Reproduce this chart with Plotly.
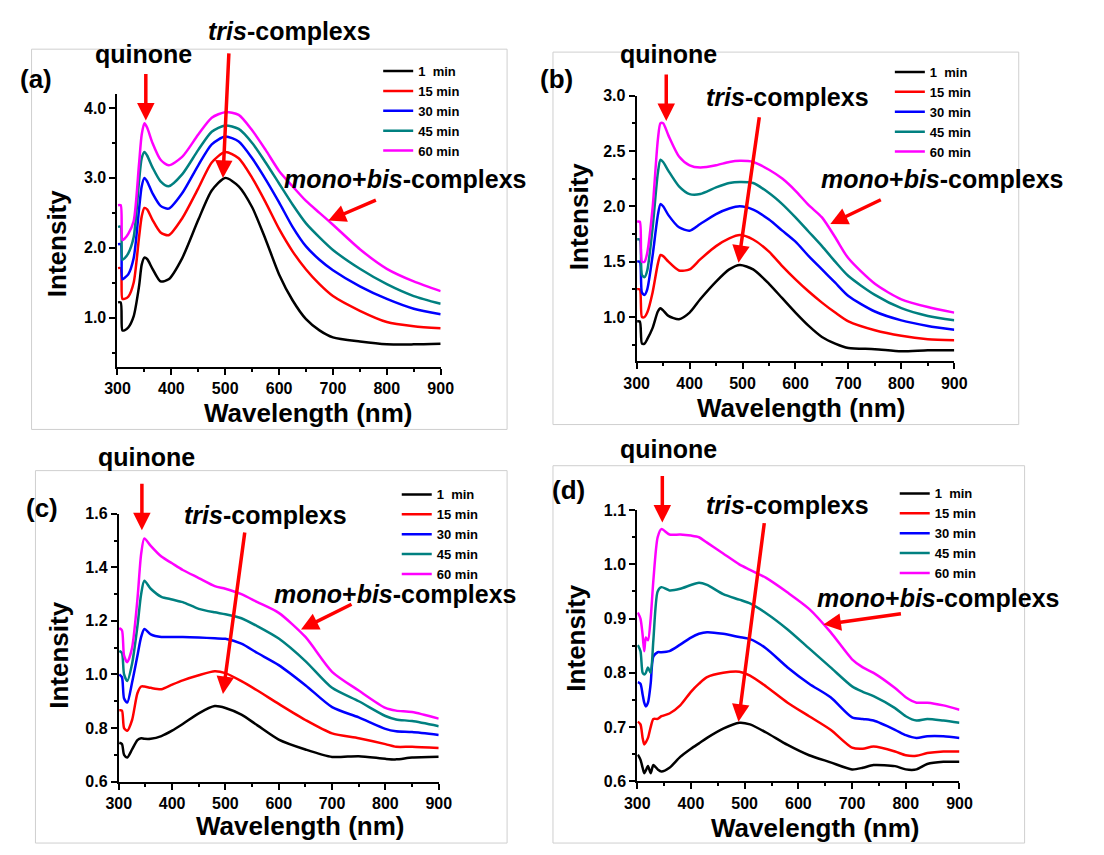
import plotly.graph_objects as go

W, H = 1104, 855

series_names = ["1\u00a0 min", "15 min", "30 min", "45 min", "60 min"]
series_colors = ["#000000", "#ff0000", "#0000ff", "#008080", "#ff00ff"]

# ---------------- panel (a) ----------------
a_wl = [301, 306, 309, 313, 320, 330, 340, 345, 350, 355, 365, 380, 395, 420, 450, 475,
        500, 525, 550, 575, 600, 625, 650, 675, 700, 750, 800, 850, 900]
a_1min = [1.22, 1.22, 0.82, 0.82, 0.86, 1.02, 1.45, 1.76, 1.86, 1.84, 1.70, 1.52, 1.55, 1.85, 2.40, 2.82,
          3.00, 2.88, 2.58, 2.12, 1.62, 1.25, 0.98, 0.82, 0.72, 0.66, 0.62, 0.62, 0.63]
a_15min = [1.71, 1.71, 1.27, 1.27, 1.30, 1.50, 2.15, 2.45, 2.57, 2.55, 2.40, 2.22, 2.18, 2.42, 2.85, 3.22,
           3.37, 3.28, 3.00, 2.65, 2.27, 1.95, 1.69, 1.48, 1.31, 1.10, 0.94, 0.88, 0.85]
a_30min = [2.05, 2.05, 1.55, 1.57, 1.62, 1.85, 2.55, 2.88, 3.00, 2.95, 2.78, 2.60, 2.56, 2.78, 3.18, 3.48,
           3.59, 3.52, 3.28, 2.98, 2.65, 2.30, 2.02, 1.83, 1.68, 1.45, 1.27, 1.13, 1.05]
a_45min = [2.30, 2.30, 1.83, 1.85, 1.92, 2.15, 2.95, 3.28, 3.37, 3.32, 3.15, 2.95, 2.88, 3.05, 3.40, 3.66,
           3.75, 3.70, 3.50, 3.22, 2.92, 2.62, 2.35, 2.15, 1.97, 1.70, 1.48, 1.31, 1.20]
a_60min = [2.61, 2.61, 2.11, 2.13, 2.20, 2.38, 3.20, 3.62, 3.78, 3.72, 3.50, 3.26, 3.18, 3.30, 3.62, 3.86,
           3.94, 3.90, 3.68, 3.40, 3.10, 2.88, 2.67, 2.50, 2.33, 1.98, 1.70, 1.52, 1.38]

# ---------------- panel (b) ----------------
b_wl = [301, 306, 310, 315, 320, 330, 340, 345, 350, 360, 380, 400, 420, 450, 475, 495,
        520, 550, 575, 600, 625, 650, 675, 700, 750, 800, 850, 900]
b_1min = [0.96, 0.96, 0.76, 0.76, 0.80, 0.90, 1.05, 1.08, 1.06, 1.01, 0.98, 1.04, 1.16, 1.32, 1.43, 1.47,
          1.43, 1.30, 1.17, 1.04, 0.92, 0.82, 0.76, 0.72, 0.71, 0.69, 0.70, 0.70]
b_15min = [1.25, 1.25, 1.00, 1.00, 1.04, 1.22, 1.48, 1.56, 1.55, 1.50, 1.42, 1.43, 1.52, 1.64, 1.71, 1.74,
           1.70, 1.59, 1.46, 1.34, 1.23, 1.13, 1.04, 0.96, 0.88, 0.83, 0.80, 0.79]
b_30min = [1.50, 1.50, 1.22, 1.20, 1.25, 1.55, 1.92, 2.02, 2.00, 1.92, 1.81, 1.78, 1.84, 1.93, 1.98, 2.00,
           1.97, 1.88, 1.78, 1.68, 1.55, 1.43, 1.31, 1.19, 1.05, 0.97, 0.92, 0.885]
b_45min = [1.70, 1.70, 1.38, 1.36, 1.42, 1.80, 2.30, 2.42, 2.40, 2.32, 2.18, 2.11, 2.11, 2.17, 2.21, 2.22,
           2.21, 2.12, 2.02, 1.90, 1.77, 1.64, 1.50, 1.37, 1.20, 1.08, 1.01, 0.97]
b_60min = [1.86, 1.86, 1.50, 1.50, 1.58, 1.98, 2.60, 2.75, 2.75, 2.64, 2.45, 2.37, 2.35, 2.37, 2.40, 2.41,
           2.40, 2.33, 2.25, 2.14, 2.01, 1.90, 1.72, 1.53, 1.30, 1.16, 1.09, 1.04]

# ---------------- panel (c) ----------------
c_wl = [301, 306, 310, 316, 325, 335, 342, 348, 360, 380, 400, 420, 450, 480, 500, 530,
        560, 600, 650, 700, 750, 800, 820, 850, 900]
c_1min = [0.745, 0.74, 0.70, 0.69, 0.72, 0.755, 0.762, 0.76, 0.76, 0.77, 0.79, 0.815, 0.855, 0.882, 0.875, 0.85,
          0.81, 0.757, 0.72, 0.692, 0.695, 0.685, 0.683, 0.69, 0.693]
c_15min = [0.866, 0.865, 0.80, 0.79, 0.83, 0.93, 0.955, 0.955, 0.95, 0.945, 0.962, 0.978, 0.997, 1.012, 1.005, 0.975,
           0.94, 0.89, 0.83, 0.78, 0.762, 0.74, 0.73, 0.73, 0.725]
c_30min = [1.00, 0.99, 0.91, 0.895, 0.97, 1.07, 1.14, 1.17, 1.15, 1.14, 1.14, 1.14, 1.138, 1.135, 1.133, 1.115,
           1.08, 1.035, 0.96, 0.878, 0.84, 0.797, 0.788, 0.785, 0.774]
c_45min = [1.088, 1.08, 1.00, 0.976, 1.04, 1.18, 1.30, 1.35, 1.32, 1.29, 1.28, 1.27, 1.245, 1.232, 1.225, 1.21,
           1.18, 1.134, 1.05, 0.95, 0.90, 0.845, 0.832, 0.826, 0.807]
c_60min = [1.173, 1.165, 1.07, 1.046, 1.10, 1.28, 1.45, 1.508, 1.48, 1.44, 1.415, 1.39, 1.36, 1.33, 1.32, 1.30,
           1.27, 1.23, 1.14, 1.01, 0.94, 0.875, 0.865, 0.86, 0.835]

# ---------------- panel (d) ----------------
d_wl = [301, 306, 310, 313, 316, 320, 325, 330, 338, 345, 360, 380, 400, 415, 430, 460,
        490, 510, 540, 580, 620, 660, 700, 720, 740, 780, 800, 820, 840, 870, 900]
d_1min = [0.649, 0.64, 0.625, 0.615, 0.62, 0.628, 0.615, 0.63, 0.622, 0.618, 0.625, 0.645, 0.66, 0.67, 0.68, 0.697,
          0.708, 0.705, 0.69, 0.667, 0.648, 0.635, 0.622, 0.625, 0.63, 0.628, 0.622, 0.622, 0.632, 0.636, 0.636]
d_15min = [0.71, 0.705, 0.68, 0.668, 0.672, 0.68, 0.70, 0.715, 0.715, 0.72, 0.725, 0.74, 0.765, 0.78, 0.792, 0.80,
           0.802, 0.795, 0.775, 0.745, 0.72, 0.695, 0.662, 0.66, 0.664, 0.655, 0.648, 0.647, 0.652, 0.655, 0.655]
d_30min = [0.783, 0.78, 0.76, 0.745, 0.738, 0.745, 0.78, 0.83, 0.838, 0.838, 0.84, 0.852, 0.865, 0.872, 0.875, 0.872,
           0.866, 0.862, 0.845, 0.81, 0.78, 0.755, 0.718, 0.715, 0.712, 0.695, 0.685, 0.68, 0.683, 0.683, 0.68]
d_45min = [0.851, 0.84, 0.80, 0.797, 0.80, 0.81, 0.80, 0.86, 0.95, 0.958, 0.952, 0.955, 0.962, 0.966, 0.962, 0.945,
           0.935, 0.928, 0.91, 0.88, 0.845, 0.81, 0.775, 0.765, 0.757, 0.735, 0.72, 0.712, 0.715, 0.712, 0.708]
d_60min = [0.911, 0.90, 0.87, 0.84, 0.865, 0.86, 0.90, 0.97, 1.05, 1.065, 1.055, 1.055, 1.053, 1.05, 1.04, 1.02,
           1.0, 0.99, 0.975, 0.948, 0.918, 0.875, 0.825, 0.81, 0.80, 0.772, 0.755, 0.745, 0.745, 0.74, 0.732]

x_ticks = [300, 400, 500, 600, 700, 800, 900]

panels = [
    dict(key="a", wl=a_wl, ys=[a_1min, a_15min, a_30min, a_45min, a_60min]),
    dict(key="b", wl=b_wl, ys=[b_1min, b_15min, b_30min, b_45min, b_60min]),
    dict(key="c", wl=c_wl, ys=[c_1min, c_15min, c_30min, c_45min, c_60min]),
    dict(key="d", wl=d_wl, ys=[d_1min, d_15min, d_30min, d_45min, d_60min]),
]

# layout geometry (pixels)
geom = {
    "a": dict(x=(107, 438), y=(87.7, 366), yr=[0.3, 4.2], dt=1.0, mdt=0.5, leg=(374, 49)),
    "b": dict(x=(638.7, 964), y=(89.3, 360.5), yr=[0.6, 3.0], dt=0.5, mdt=0.25, leg=(898, 50)),
    "c": dict(x=(108.3, 436), y=(516, 789.3), yr=[0.6, 1.6], dt=0.2, mdt=0.1, leg=(393, 481)),
    "d": dict(x=(639.3, 969.3), y=(512.3, 789), yr=[0.6, 1.1], dt=0.1, mdt=0.05, leg=(903, 480)),
}

FONT = "Liberation Sans, Arial, sans-serif"

def px(x):
    return x / W

def py(y):
    return 1 - y / H

fig = go.Figure()
layout = dict(width=W, height=H, margin=dict(l=0, r=0, t=0, b=0),
              paper_bgcolor="white", plot_bgcolor="white", showlegend=True)

for i, p in enumerate(panels):
    k = p["key"]
    g = geom[k]
    sfx = "" if i == 0 else str(i + 1)
    leg = "legend" if i == 0 else "legend%d" % (i + 1)
    for name, col, yv in zip(series_names, series_colors, p["ys"]):
        fig.add_trace(go.Scatter(x=p["wl"], y=yv, mode="lines", name=name,
                                 line=dict(color=col, width=2.5, shape="spline", smoothing=0.7),
                                 xaxis="x" + sfx, yaxis="y" + sfx, legend=leg))
    layout["xaxis" + sfx] = dict(
        domain=[px(g["x"][0]), px(g["x"][1])], range=[300, 900], anchor="y" + sfx,
        tickvals=x_ticks, ticks="outside", ticklen=6, tickwidth=2, tickcolor="black",
        showline=True, linecolor="black", linewidth=2, showgrid=False, zeroline=False,
        tickfont=dict(family=FONT, size=16, color="black", weight="bold"),
        minor=dict(ticks="outside", ticklen=3, tickwidth=1.5, tickcolor="black", dtick=50, tick0=300, showgrid=False),
    )
    layout["yaxis" + sfx] = dict(
        domain=[py(g["y"][1]), py(g["y"][0])], range=g["yr"], anchor="x" + sfx,
        dtick=g["dt"], tick0=0, tickformat=".1f", ticks="outside", ticklen=6, tickwidth=2, tickcolor="black",
        showline=True, linecolor="black", linewidth=2, showgrid=False, zeroline=False,
        tickfont=dict(family=FONT, size=16, color="black", weight="bold"),
        minor=dict(ticks="outside", ticklen=3, tickwidth=1.5, tickcolor="black", dtick=g["mdt"], tick0=0, showgrid=False),
    )
    layout[leg] = dict(x=px(g["leg"][0]), y=py(g["leg"][1]), xanchor="left", yanchor="top",
                       bgcolor="rgba(0,0,0,0)", borderwidth=0, itemwidth=30, tracegroupgap=0,
                       font=dict(family=FONT, size=13, color="black", weight="bold"))

fig.update_layout(**layout)

# frames around panels
frames = [(19, 42, 506, 430), (553, 45, 1030, 425), (23, 472, 506, 852), (553, 467, 1036, 852)]
for x0, y0, x1, y1 in frames:
    fig.add_shape(type="rect", xref="paper", yref="paper", x0=px(x0), x1=px(x1), y0=py(y1), y1=py(y0),
                  line=dict(color="#cfcfcf", width=1), layer="below")

def text(x, y, t, size=25, anchor="center", angle=0):
    fig.add_annotation(x=px(x), y=py(y), xref="paper", yref="paper", text=t, showarrow=False,
                       xanchor=anchor, yanchor="middle", textangle=angle,
                       font=dict(family=FONT, size=size, color="black"))

def arrow(ax_name, x, y, dx, dy):
    fig.add_annotation(x=x, y=y, xref=ax_name, yref=ax_name.replace("x", "y"), text="",
                       showarrow=True, arrowhead=2, arrowsize=1.0, arrowwidth=3.5, arrowcolor="#ff0000",
                       ax=dx, ay=dy, axref="pixel", ayref="pixel")

TRIS = "<b><i>tris</i>-complexs</b>"
MONO = "<b><i>mono</i>+<i>bis</i>-complexs</b>"
QUIN = "<b>quinone</b>"
WAVE = "<b>Wavelength (nm)</b>"
INT = "<b>Intensity</b>"

# panel (a)
text(24, 72, "<b>(a)</b>", size=26)
text(134, 47, QUIN)
text(283, 23, TRIS)
text(275, 174, MONO, anchor="left")
text(302, 413, WAVE, size=26)
text(45, 240, INT, size=26, angle=-90)
arrow("x", 352.6, 3.82, 0, -48)
arrow("x", 495.8, 3.0, 6, -126)
arrow("x", 691.5, 2.39, 49, -21)

# panel (b)
text(557, 72, "<b>(b)</b>", size=26)
text(671, 47, QUIN)
text(793, 91, TRIS)
text(825, 174, MONO, anchor="left")
text(807, 408, WAVE, size=26)
text(579, 213, INT, size=26, angle=-90)
arrow("x2", 355.9, 2.77, 0, -48)
arrow("x2", 492.4, 1.49, 21, -147)
arrow("x2", 665.8, 1.84, 52, -25)

# panel (c)
text(30, 510, "<b>(c)</b>", size=26)
text(137, 458, QUIN)
text(259, 517, TRIS)
text(265, 598, MONO, anchor="left")
text(294, 835, WAVE, size=26)
text(47, 660, INT, size=26, angle=-90)
arrow("x3", 343.4, 1.538, 0, -48)
arrow("x3", 495.4, 0.927, 22, -163)
arrow("x3", 641.8, 1.168, 52, -26)

# panel (d)
text(569, 492, "<b>(d)</b>", size=26)
text(671, 450, QUIN)
text(793, 507, TRIS)
text(821, 602, MONO, anchor="left")
text(821, 837, WAVE, size=26)
text(577, 643, INT, size=26, angle=-90)
arrow("x4", 346.7, 1.077, 0, -48)
arrow("x4", 488.5, 0.71, 26, -200)
arrow("x4", 646.7, 0.889, 79, -11)

fig.write_html("out.html")
